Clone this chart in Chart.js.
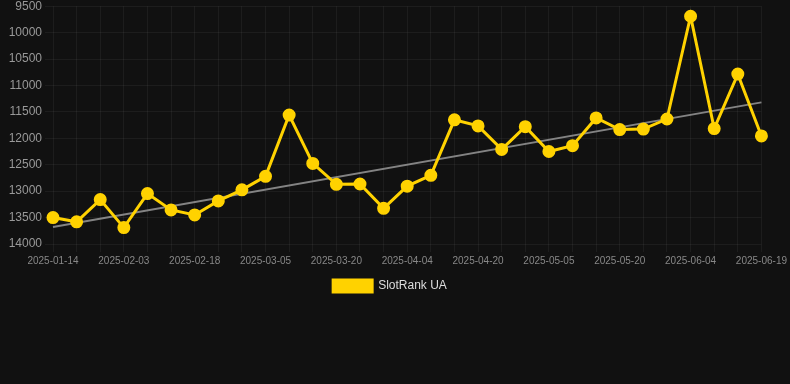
<!DOCTYPE html>
<html>
<head>
<meta charset="utf-8">
<script src="https://cdn.jsdelivr.net/npm/chart.js@4"></script>
<style>
  html, body { margin:0; padding:0; background:#111111; overflow:hidden; }
  #wrap { width:790px; height:388px; margin-top:-4px; position:relative; }
</style>
</head>
<body>
<div id="wrap"><canvas id="rankChart"></canvas></div>
<script>
// tanggal (tiap ~5 hari)
const dates = [
  '2025-01-14','2025-01-21','2025-01-27','2025-02-03','2025-02-08','2025-02-13',
  '2025-02-18','2025-02-23','2025-02-28','2025-03-05','2025-03-10','2025-03-15',
  '2025-03-20','2025-03-25','2025-03-30','2025-04-04','2025-04-09','2025-04-15',
  '2025-04-20','2025-04-25','2025-04-30','2025-05-05','2025-05-10','2025-05-15',
  '2025-05-20','2025-05-25','2025-05-30','2025-06-04','2025-06-09','2025-06-14',
  '2025-06-19'
];
const rankValues = [
  13500, 13580, 13160, 13690, 13045, 13355, 13450, 13185, 12975, 12720,
  11560, 12475, 12870, 12865, 13325, 12905, 12700, 11650, 11765, 12210,
  11780, 12250, 12140, 11615, 11835, 11825, 11635, 9690, 11815, 10785,
  11955
];
const trendStart = 13680;
const trendEnd = 11320;
const yTicks = [9500, 10000, 10500, 11000, 11500, 12000, 12500, 13000, 13500, 14000];

const trendData = dates.map((d,i)=> i===0 ? trendStart : (i===dates.length-1 ? trendEnd : null));

new Chart(document.getElementById('rankChart'),{
  type:'line',
  data:{
    labels:dates,
    datasets:[
      {
        label:'SlotRank UA',
        data:rankValues,
        borderColor:'#FFD200',
        backgroundColor:'#FFD200',
        borderWidth:3,
        pointRadius:5,
        pointHoverRadius:6,
        tension:0
      },
      {
        label:'trend',
        data:trendData,
        borderColor:'rgba(160,160,160,0.8)',
        borderWidth:2,
        pointRadius:0,
        spanGaps:true,
        tension:0
      }
    ]
  },
  options:{
    responsive:true,
    maintainAspectRatio:false,
    animation:false,
    layout:{ padding:{ left:0, right:10, bottom:82 } },
    plugins:{
      legend:{
        position:'bottom',
        labels:{
          color:'#dddddd',
          font:{ family:'Liberation Sans, Arial, sans-serif', size:12 },
          boxWidth:39,
          boxHeight:12,
          filter:item=>item.text!=='trend'
        }
      },
      tooltip:{ enabled:false }
    },
    scales:{
      x:{
        grid:{ color:'rgba(255,255,255,0.05)' },
        border:{ display:false },
        ticks:{
          color:'#888888',
          font:{ family:'Liberation Sans, Arial, sans-serif', size:10 },
          autoSkip:false,
          maxRotation:0,
          callback:function(v,i){ return i%3===0 ? this.getLabelForValue(v) : ''; }
        }
      },
      y:{
        reverse:true,
        min:yTicks[0],
        max:yTicks[yTicks.length-1],
        grid:{ color:'rgba(255,255,255,0.05)' },
        border:{ display:false },
        afterBuildTicks:axis=>{ axis.ticks = yTicks.map(v=>({value:v})); },
        afterFit:axis=>{ axis.width = 53; },
        ticks:{
          color:'#999999',
          font:{ family:'Liberation Sans, Arial, sans-serif', size:12 },
          callback:v=>String(v)
        }
      }
    }
  }
});
</script>
</body>
</html>
